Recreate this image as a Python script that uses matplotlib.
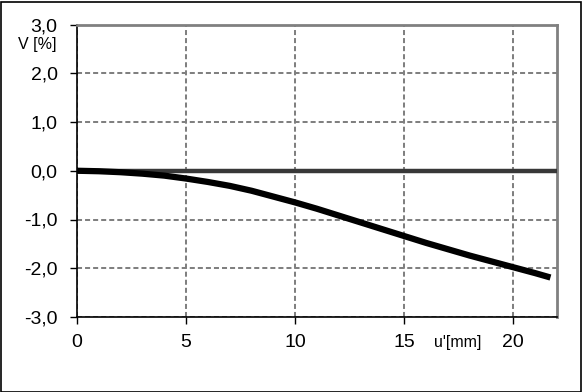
import numpy as np
import matplotlib.pyplot as plt
from matplotlib.patches import Rectangle

plt.rcParams['font.family'] = ['Liberation Sans', 'DejaVu Sans']

# data
u = [0, 1, 2, 3, 4, 5, 6, 7, 8, 9, 10, 11, 12, 13, 14, 15, 16, 17, 18, 19, 20, 21, 21.7]
V = [0, -0.01, -0.03, -0.06, -0.10, -0.16, -0.23, -0.31, -0.41, -0.53, -0.65, -0.78, -0.92,
     -1.06, -1.20, -1.34, -1.48, -1.61, -1.74, -1.86, -1.98, -2.10, -2.19]
xticks = [0, 5, 10, 15, 20]
yticks = [-3, -2, -1, 0, 1, 2, 3]
ylabels = ['-3,0', '-2,0', '-1,0', '0,0', '1,0', '2,0', '3,0']

fig = plt.figure(figsize=(5.82, 3.92), dpi=100)
ax = fig.add_axes([77/582, 1 - 317/392, (557-77)/582, (317-24.5)/392])

ax.set_xlim(0, 22)
ax.set_ylim(-3, 3)
ax.set_xticks(xticks)
ax.set_yticks(yticks)
ax.set_yticklabels(ylabels)
ax.tick_params(labelsize=14, length=5, width=1, direction='out', colors='black')
ax.tick_params(axis='y', pad=9)
ax.tick_params(axis='x', pad=7)

ax.grid(True, color='#808080', linestyle=(0, (2.5, 1.5)), linewidth=1.45)
ax.axhline(0, color='#383838', linewidth=3.2, zorder=3)
ax.plot(u, V, color='black', linewidth=4.5, solid_capstyle='butt', zorder=4)

for s in ['top', 'right']:
    ax.spines[s].set_color('#808080')
    ax.spines[s].set_linewidth(2)
for s in ['left', 'bottom']:
    ax.spines[s].set_color('black')
    ax.spines[s].set_linewidth(1.2)

fig.text(37/582, 1 - 45/392, 'V [%]', fontsize=11.5, ha='center', va='center')
fig.text(458/582, 1 - 342/392, "u'[mm]", fontsize=11.5, ha='center', va='center')

fig.patches.append(Rectangle((0.5/582, 0.5/392), 580/582, 390/392, transform=fig.transFigure,
                             fill=False, edgecolor='black', linewidth=1.2))

fig.savefig('out.png', dpi=100)
